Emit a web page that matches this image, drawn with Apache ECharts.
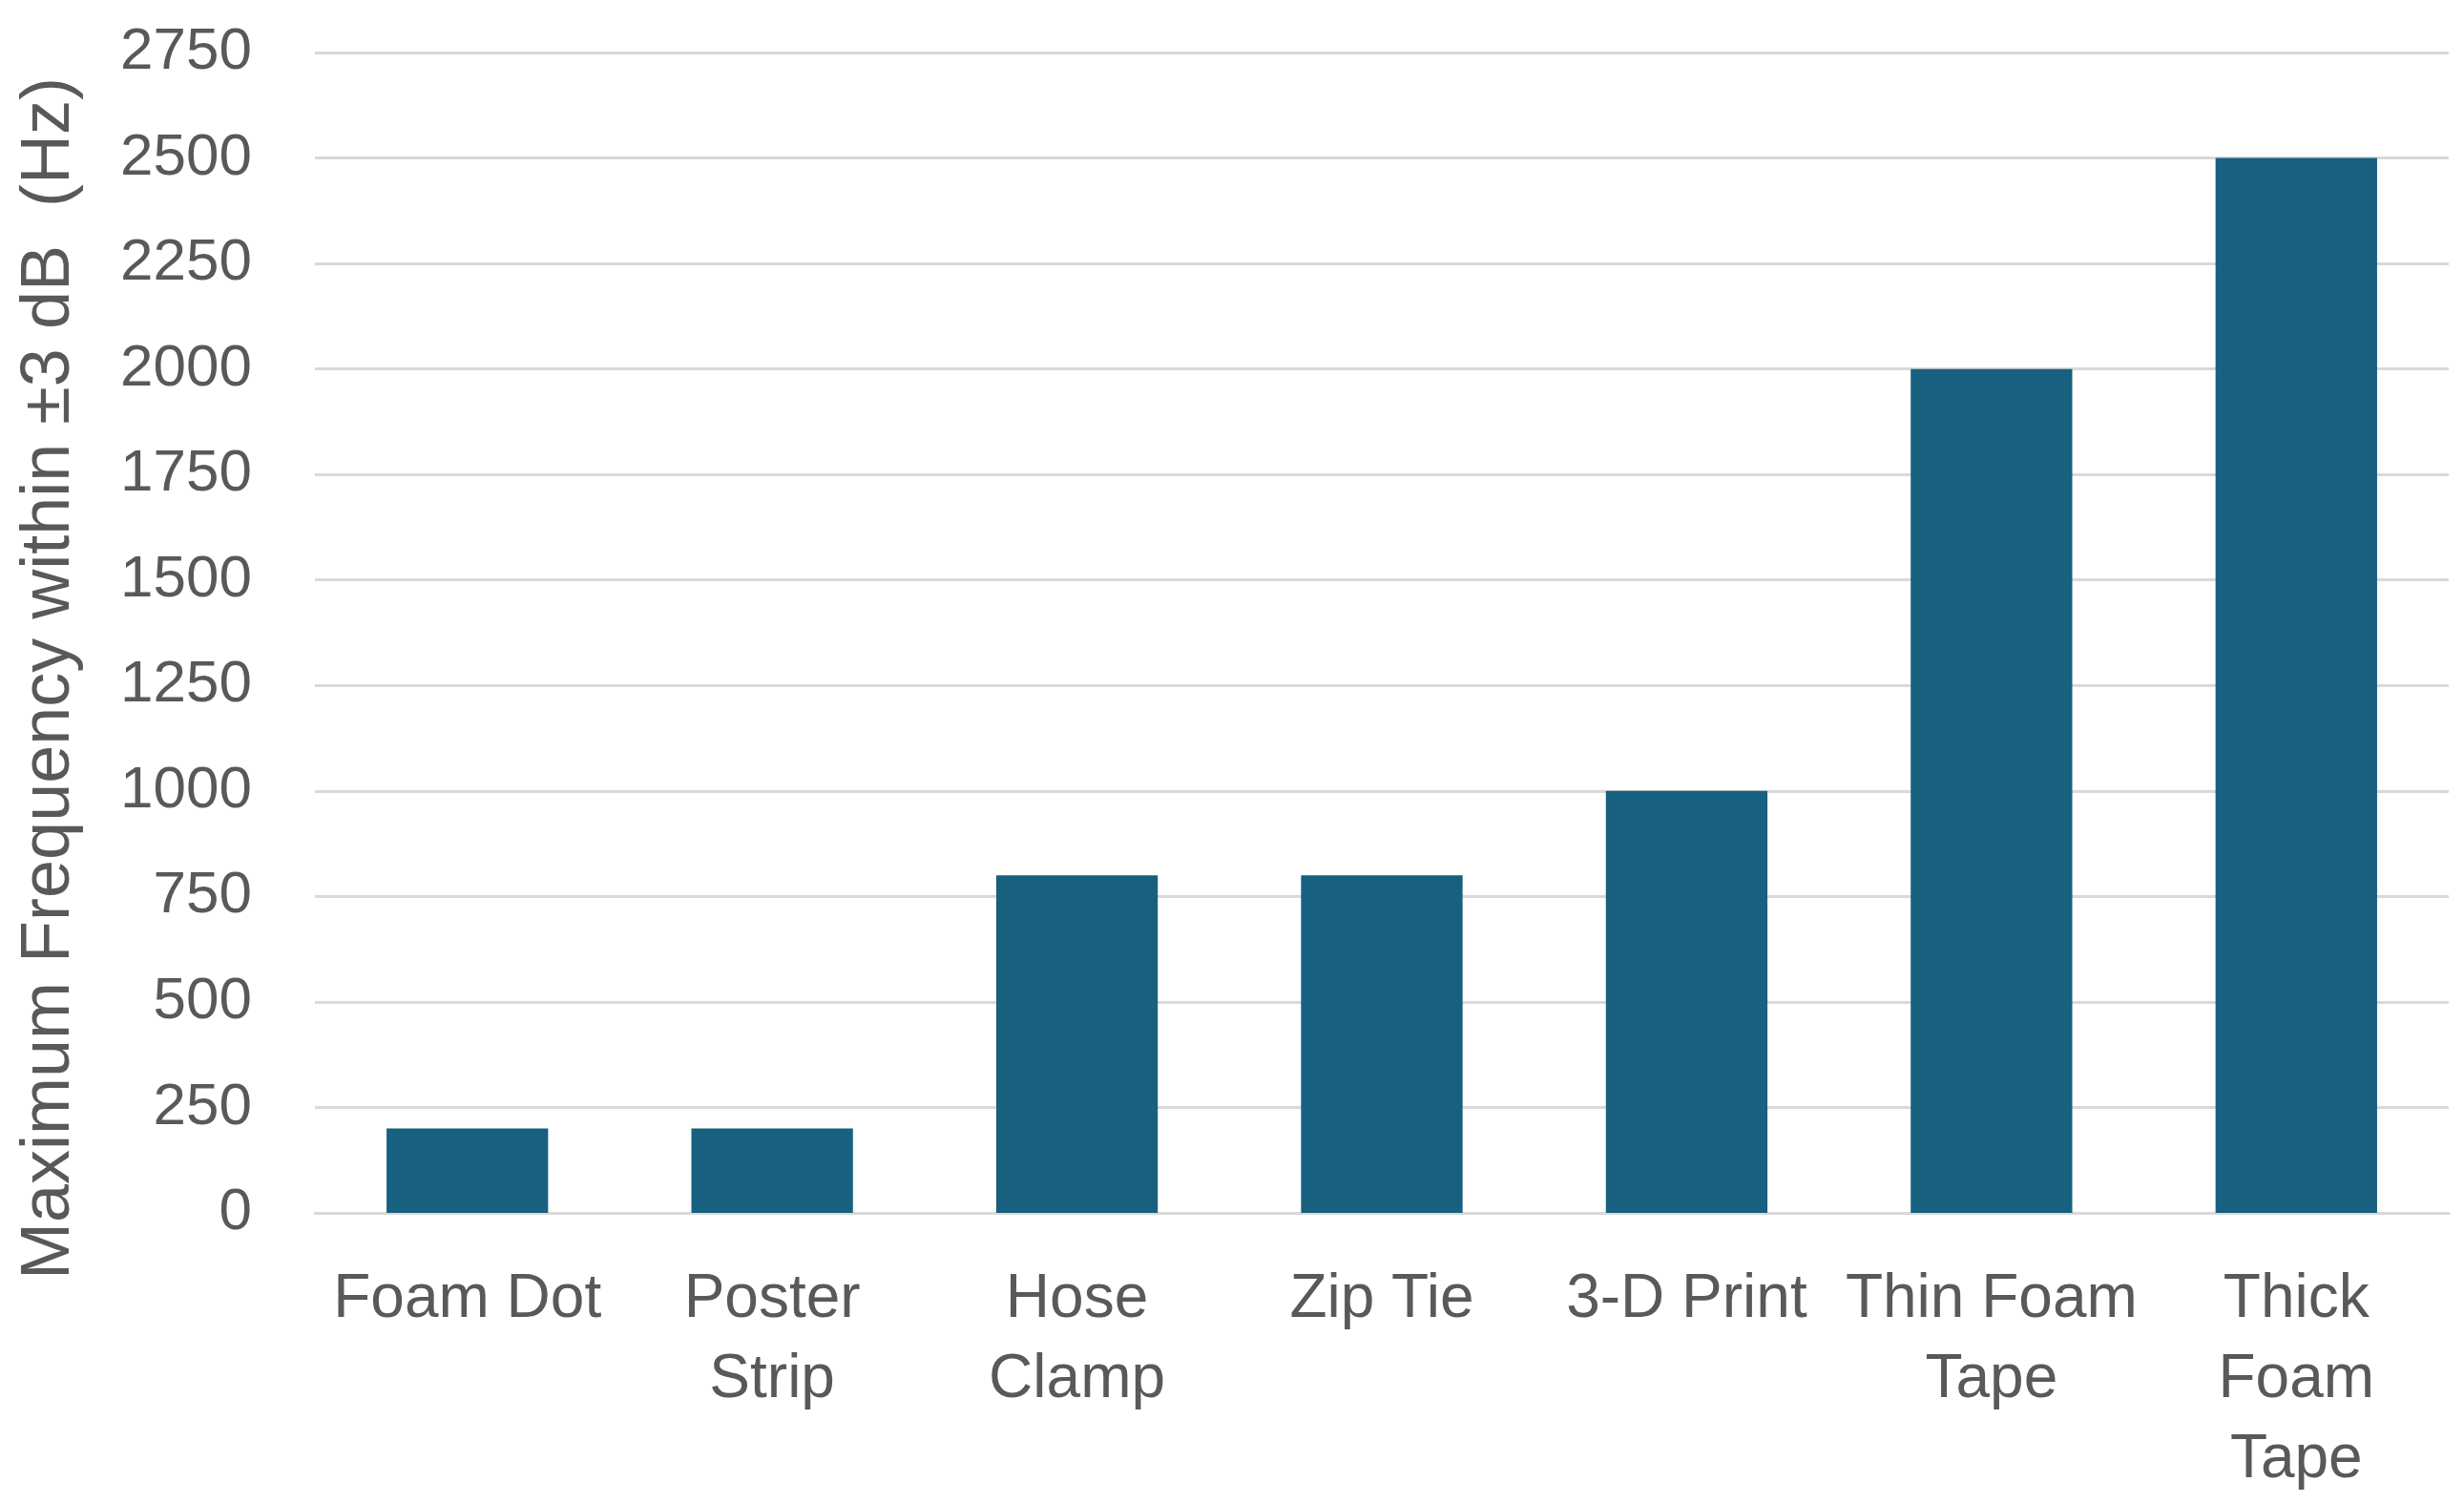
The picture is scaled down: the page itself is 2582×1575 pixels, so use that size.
<!DOCTYPE html>
<html lang="en">
<head>
  <meta charset="UTF-8">
  <title>Maximum Frequency</title>
  <script src="https://cdn.jsdelivr.net/npm/echarts@6/dist/echarts.min.js"></script>
  <style>
    html, body { margin: 0; padding: 0; background: #fff; }
  </style>
</head>
<body>
<!--chart container-->
<div id="box" style="width: 2582px;height: 1575px;"></div>
<script>
  // data
  var categories = ['Foam Dot', 'Poster\nStrip', 'Hose\nClamp', 'Zip Tie', '3-D Print', 'Thin Foam\nTape', 'Thick\nFoam\nTape'];
  var maxFreq = [200, 200, 800, 800, 1000, 2000, 2500];
  var yTicks = [0, 250, 500, 750, 1000, 1250, 1500, 1750, 2000, 2250, 2500, 2750];
  var yTitle = 'Maximum Frequency within \u00b13 dB  (Hz)';

  var textColor = '#595959';
  var gridColor = '#d9d9d9';
  var font = 'Liberation Sans';

  var myChart = echarts.init(document.getElementById('box'));
  var option = {
    animation: false,
    backgroundColor: '#fff',
    grid: {
      left: 330,
      right: 16,
      top: 55,
      bottom: 304,
      containLabel: false,
      outerBoundsMode: 'none'
    },
    xAxis: {
      type: 'category',
      data: categories,
      axisLine: { show: true, lineStyle: { color: gridColor, width: 3 } },
      axisTick: { show: false },
      axisLabel: {
        interval: 0,
        margin: 49,
        color: textColor,
        fontFamily: font,
        fontSize: 64,
        lineHeight: 84
      }
    },
    yAxis: {
      type: 'value',
      min: yTicks[0],
      max: yTicks[yTicks.length - 1],
      interval: yTicks[1] - yTicks[0],
      axisLine: { show: false },
      axisTick: { show: false },
      splitLine: { show: true, lineStyle: { color: gridColor, width: 3 } },
      axisLabel: {
        margin: 66,
        color: textColor,
        fontFamily: font,
        fontSize: 62,
        // no thousands separator
        formatter: function (v) { return String(v); }
      }
    },
    // y axis title, placed by hand so it matches the original offset
    graphic: [{
      type: 'text',
      x: 52,
      y: 711,
      rotation: Math.PI / 2,
      style: {
        text: yTitle,
        fill: textColor,
        font: '72px "Liberation Sans"',
        align: 'center',
        verticalAlign: 'middle'
      }
    }],
    series: [{
      type: 'bar',
      data: maxFreq,
      barCategoryGap: '47%',
      itemStyle: { color: '#17607f' }
    }]
  };
  myChart.setOption(option);
</script>
</body>
</html>
